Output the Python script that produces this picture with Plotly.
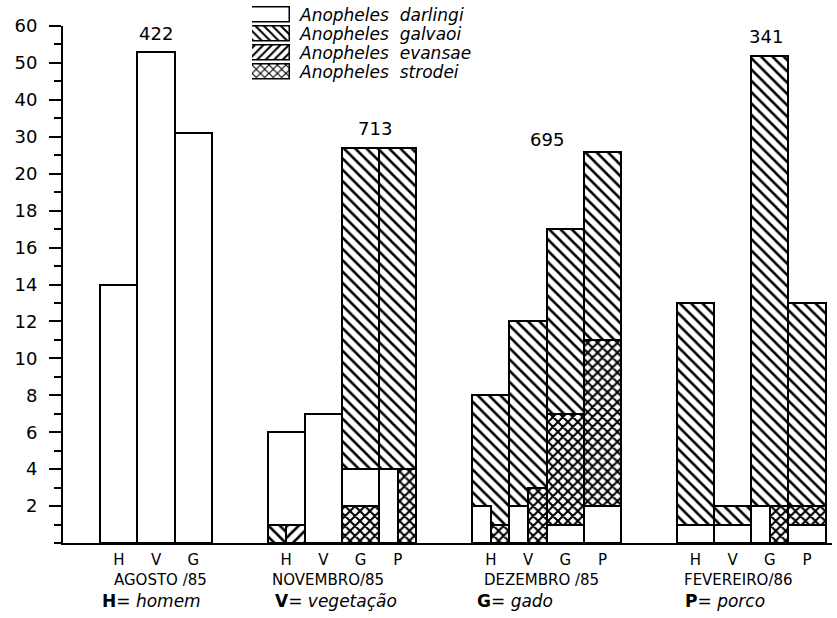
import plotly.graph_objects as go

# ---------------- data ----------------
months = ["AGOSTO /85", "NOVEMBRO/85", "DEZEMBRO /85", "FEVEREIRO/86"]
hosts = [["H", "V", "G"], ["H", "V", "G", "P"], ["H", "V", "G", "P"], ["H", "V", "G", "P"]]
host_keys = ["<b>H</b>= <i>homem</i>", "<b>V</b>= <i>vegetação</i>", "<b>G</b>= <i>gado</i>", "<b>P</b>= <i>porco</i>"]
totals = [422, 713, 695, 341]
species = ["Anopheles  darlingi", "Anopheles  galvaoi", "Anopheles  evansae", "Anopheles  strodei"]
patterns = ["", "\\", "/", "x"]

# segments: (month index, host, part of bar, lower value, upper value)
darlingi = [
    (0, "H", "full", 0, 14), (0, "V", "full", 0, 53), (0, "G", "full", 0, 31),
    (1, "H", "full", 1, 6), (1, "V", "full", 0, 7), (1, "G", "full", 2, 4), (1, "P", "left", 0, 4),
    (2, "H", "left", 0, 2), (2, "V", "left", 0, 2), (2, "G", "full", 0, 1), (2, "P", "full", 0, 2),
    (3, "H", "full", 0, 1), (3, "V", "full", 0, 1), (3, "G", "left", 0, 2), (3, "P", "full", 0, 1),
]
galvaoi = [
    (1, "H", "left", 0, 1), (1, "G", "full", 4, 27), (1, "P", "full", 4, 27),
    (2, "H", "full", 1, 8), (2, "V", "full", 2, 12), (2, "G", "full", 7, 17), (2, "P", "full", 11, 26),
    (3, "H", "full", 1, 13), (3, "V", "full", 1, 2), (3, "G", "full", 2, 52), (3, "P", "full", 2, 13),
]
evansae = [
    (1, "H", "right", 0, 1),
]
strodei = [
    (1, "G", "full", 0, 2), (1, "P", "right", 0, 4),
    (2, "H", "right", 0, 1), (2, "V", "right", 0, 3), (2, "G", "full", 1, 7), (2, "P", "full", 2, 11),
    (3, "G", "right", 0, 2), (3, "P", "full", 1, 2),
]

y_tick_values = [2, 4, 6, 8, 10, 12, 14, 16, 18, 20, 30, 40, 50, 60]

# ---------------- scale helpers ----------------
GAP = 1.5
group_start = []
s = 1.5
for h in hosts:
    group_start.append(s)
    s += len(h) + GAP


def axis_pos(v):
    # broken axis: linear up to 20, then 10 units per tick step
    return v if v <= 20 else 20 + (v - 20) / 5


def bar_x(m, host, part):
    x = group_start[m] + hosts[m].index(host)
    if part == "left":
        return x - 0.25, 0.5
    if part == "right":
        return x + 0.25, 0.5
    return x, 1.0


PAT_SIZE = [8, 8, 8, 7]
PAT_SOL = [0.3, 0.32, 0.32, 0.5]

fig = go.Figure()

order = [(galvaoi, 1), (evansae, 2), (darlingi, 0), (strodei, 3)]
for segs, si in order:
    xs, ws, bases, ys = [], [], [], []
    for m, host, part, lo, hi in segs:
        x, w = bar_x(m, host, part)
        xs.append(x)
        ws.append(w)
        bases.append(axis_pos(lo))
        ys.append(axis_pos(hi) - axis_pos(lo))
    fig.add_trace(go.Bar(
        x=xs, y=ys, base=bases, width=ws, name=species[si], showlegend=False,
        marker=dict(color="white", line=dict(color="black", width=2),
                    pattern=dict(shape=patterns[si], fgcolor="black", bgcolor="white", fgopacity=1,
                                 size=PAT_SIZE[si], solidity=PAT_SOL[si])),
        hoverinfo="skip",
    ))

# legend swatches drawn on a small overlay axis
fig.add_trace(go.Bar(
    x=[1, 1, 1, 1], y=[0, 1, 2, 3], orientation="h", base=0, width=0.78,
    xaxis="x2", yaxis="y2", showlegend=False, hoverinfo="skip",
    marker=dict(color="white", line=dict(color="black", width=1.5),
                pattern=dict(shape=patterns, fgcolor="black", bgcolor="white", fgopacity=1,
                             size=6, solidity=0.35)),
))

W, H = 837, 618
ML, MR, MT, MB = 63, 5, 4, 75
plot_h = H - MT - MB


def py(px):
    return (H - MB - px) / plot_h


def pxx(px):
    return (px - ML) / (W - ML - MR)


annotations = []
# species names in legend
row_y = [15, 34, 53, 72]
for i, name in enumerate(species):
    annotations.append(dict(
        text="<i>" + name + "</i>", xref="paper", yref="paper", x=pxx(297), y=py(row_y[i]),
        xanchor="left", yanchor="middle", showarrow=False,
        font=dict(family="DejaVu Sans", size=17, color="black")))

# month labels and host keys
month_center = [2.61, 7.12, 12.85, 18.17]
key_left = [pxx(100), pxx(273), pxx(475), pxx(683)]
for m, name in enumerate(months):
    annotations.append(dict(
        text=name, xref="x", yref="paper", x=month_center[m], y=py(580),
        xanchor="center", yanchor="middle", showarrow=False,
        font=dict(family="DejaVu Sans", size=15, color="black")))
    annotations.append(dict(
        text=host_keys[m], xref="paper", yref="paper", x=key_left[m], y=py(601),
        xanchor="left", yanchor="middle", showarrow=False,
        font=dict(family="DejaVu Sans", size=17, color="black")))

# totals above groups
total_x_offset = [1.0, 2.4, 1.5, 1.9]
total_label_px = [34, 128, 140, 37]
for m, t in enumerate(totals):
    annotations.append(dict(
        text=str(t), xref="x", yref="paper", x=group_start[m] + total_x_offset[m], y=py(total_label_px[m]),
        xanchor="center", yanchor="middle", showarrow=False,
        font=dict(family="DejaVu Sans", size=18, color="black")))

tickvals_x, ticktext_x = [], []
for m, hs in enumerate(hosts):
    for i, h in enumerate(hs):
        tickvals_x.append(group_start[m] + i)
        ticktext_x.append(h)

fig.update_layout(
    width=W, height=H,
    margin=dict(l=ML, r=MR, t=MT, b=MB, autoexpand=False),
    paper_bgcolor="white", plot_bgcolor="white",
    barmode="overlay", bargap=0,
    showlegend=False,
    font=dict(family="DejaVu Sans", color="black"),
    xaxis=dict(range=[0, (W - ML - MR) / 37.2], showgrid=False, zeroline=False, automargin=False,
               showline=True, linecolor="black", linewidth=2,
               tickmode="array", tickvals=tickvals_x, ticktext=ticktext_x, ticks="",
               tickfont=dict(family="DejaVu Sans", size=15, color="black"),
               ticklabelstandoff=2),
    yaxis=dict(domain=[0, py(26)], range=[0, 28], showgrid=False, zeroline=False, automargin=False,
               showline=True, linecolor="black", linewidth=2,
               tickmode="array", tickvals=[axis_pos(v) for v in y_tick_values],
               ticktext=[str(v) for v in y_tick_values],
               ticks="outside", ticklen=12, tickwidth=2, tickcolor="black",
               minor=dict(dtick=1, tick0=0, ticks="outside", ticklen=7, tickwidth=1.5, tickcolor="black"),
               tickfont=dict(family="DejaVu Sans", size=18, color="black"),
               ticklabelstandoff=8),
    xaxis2=dict(domain=[pxx(252), pxx(290)], range=[0, 1], anchor="y2", visible=False, fixedrange=True,
                automargin=False),
    yaxis2=dict(domain=[py(row_y[-1] + 9.5), py(row_y[0] - 9.5)], range=[3.5, -0.5], anchor="x2",
                visible=False, fixedrange=True, automargin=False),
    annotations=annotations,
)

fig.write_html("out.html", config={"displayModeBar": False},
               post_script="document.body.style.margin='0px';")
